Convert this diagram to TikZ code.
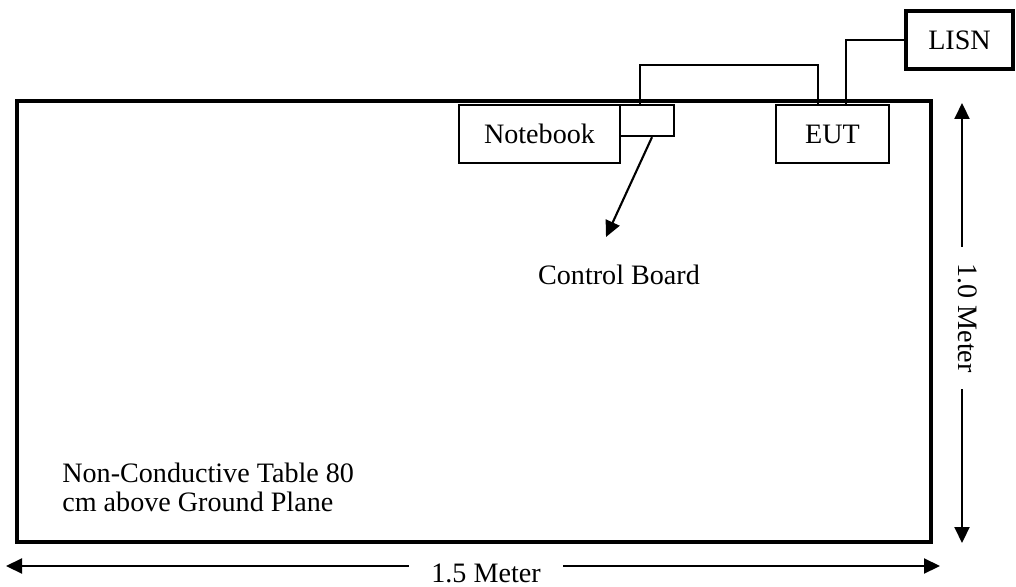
\documentclass[tikz,border=0pt]{standalone}
\usepackage{fontspec}
\setmainfont{Liberation Serif}
\usepackage{tikz}
\usetikzlibrary{arrows.meta}

\begin{document}
\begin{tikzpicture}[x=0.2mm,y=-0.2mm,font=\fontsize{16}{16.5}\selectfont,
	box/.style={draw,line width=1.3pt,inner sep=0pt,minimum height=11.6mm},
	heavy/.style={draw,line width=2.2pt,inner sep=0pt},
	cable/.style={line width=0.8pt},
	arr/.style={line width=1.2pt,-{Triangle[length=3.2mm,width=3mm]}}]
			\useasboundingbox (0,0) rectangle (1016,587);
			\node[heavy,minimum width=182.8mm,minimum height=88.2mm] (table) at (474,321.5) {};
			\node[box,minimum width=32.2mm] (nb) at (539.5,134) {Notebook};
			\node[box,minimum width=10.8mm,minimum height=6.2mm] (cb) at (647,120.5) {};
			\node[box,minimum width=22.6mm] (eut) at (832.5,134) {EUT};
			\node[heavy,minimum width=21.4mm,minimum height=11.6mm] (lisn) at (959.5,40) {LISN};
			\node[inner sep=0pt] (cbl) at (619,275) {Control Board};
			\node[anchor=south west,align=left,inner sep=0pt] (tlab) at (62,512) {Non-Conductive Table 80\\cm above Ground Plane};
			\draw[cable] ([xshift=-1.4mm]cb.north) |- ++(0,-39) -| ([xshift=-2.9mm]eut.north);
			\draw[cable] ([xshift=2.7mm]eut.north) |- (lisn.west);
			\coordinate (cbtip) at (606,237);
			\draw[arr] ([xshift=1mm]cb.south) -- (cbtip);
			\coordinate (wl) at (6,566);
			\coordinate (wr) at (940,566);
			\node[inner xsep=4.4mm,inner ysep=0pt] (wlab) at (486,573) {1.5 Meter};
			\draw[arr] (wl -| wlab.west) -- (wl);
			\draw[arr] (wr -| wlab.east) -- (wr);
			\coordinate (ht) at (962,103);
			\coordinate (hb) at (962,543);
			\node[rotate=-90,inner xsep=3.2mm,inner ysep=0pt] (hlab) at (968,318) {1.0 Meter};
			\draw[arr] (ht |- hlab.west) -- (ht);
			\draw[arr] (hb |- hlab.east) -- (hb);
			\end{tikzpicture}
\end{document}
